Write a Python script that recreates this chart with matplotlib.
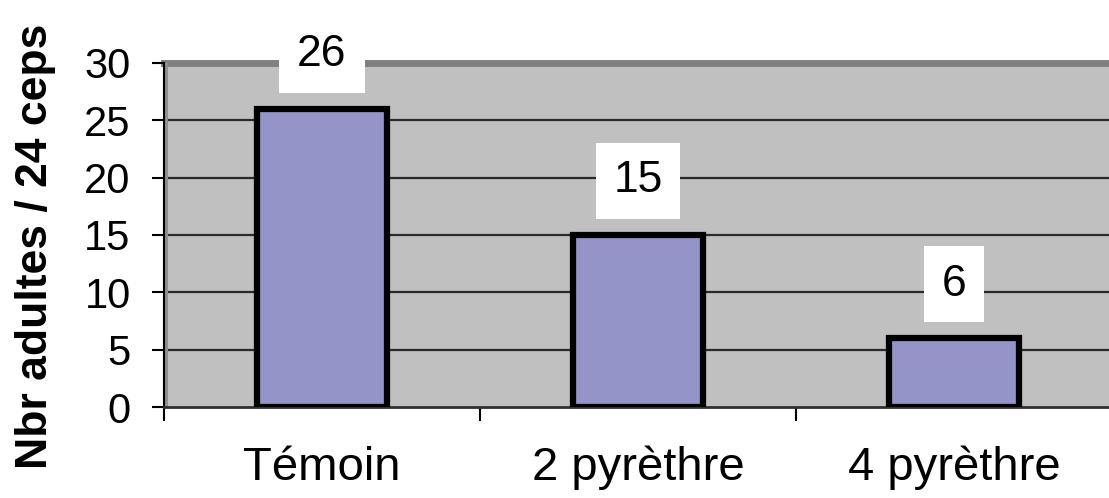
import matplotlib
matplotlib.use('Agg')
import matplotlib.pyplot as plt
import numpy as np

plt.rcParams['font.family'] = ['Liberation Sans', 'DejaVu Sans']

# --- data ---
categories = ['Témoin', '2 pyrèthre', '4 pyrèthre']
values = [26, 15, 6]
y_ticks = [0, 5, 10, 15, 20, 25, 30]
y_label = 'Nbr adultes / 24 ceps'

W, H = 1109, 498
fig = plt.figure(figsize=(W / 100, H / 100), dpi=100)
# plot area runs a bit past the right edge, like the original
ax = fig.add_axes([164 / W, (H - 407) / H, (1112 - 164) / W, (407 - 63) / H])

ax.set_facecolor('#c0c0c0')
x = np.arange(len(categories))
ax.set_xlim(-0.5, len(categories) - 0.5)
ax.set_ylim(0, 30)

# grid lines + darker top band (3D wall edge)
for v in y_ticks[1:-1]:
    ax.axhline(v, color='#2a2a2a', lw=1.6, zorder=1)
ax.axhline(30, color='#808080', lw=5, zorder=1, clip_on=False)
ax.axvline(-0.5, color='#909090', lw=5, zorder=1)

ax.bar(x, values, width=0.41, color='#9494c8', edgecolor='black',
       linewidth=4.5, zorder=3)

# value labels in white boxes
for xi, v in zip(x, values):
    ax.annotate(str(v), (xi, v), xytext=(0, 39), textcoords='offset points',
                ha='center', va='center', fontsize=32, zorder=5,
                bbox=dict(boxstyle='square,pad=0.4', fc='white', ec='none'))

# axes styling
for s in ['top', 'right']:
    ax.spines[s].set_visible(False)
ax.spines['left'].set_linewidth(1.5)
ax.spines['bottom'].set_linewidth(2)
ax.spines['bottom'].set_color('#303030')

ax.set_yticks(y_ticks)
ax.tick_params(axis='y', length=9, width=1.5, pad=15, labelsize=30)
ax.set_xticks(x)
ax.set_xticklabels(categories)
ax.tick_params(axis='x', which='major', length=0, pad=28, labelsize=34)
ax.set_xticks(np.arange(-0.5, len(categories), 1), minor=True)
ax.tick_params(axis='x', which='minor', length=10, width=1.5)

fig.text(36 / W, 0.505, y_label, rotation=90, ha='center', va='center',
         fontsize=32, fontweight='bold')

fig.savefig('out.png', dpi=100, facecolor='white')
